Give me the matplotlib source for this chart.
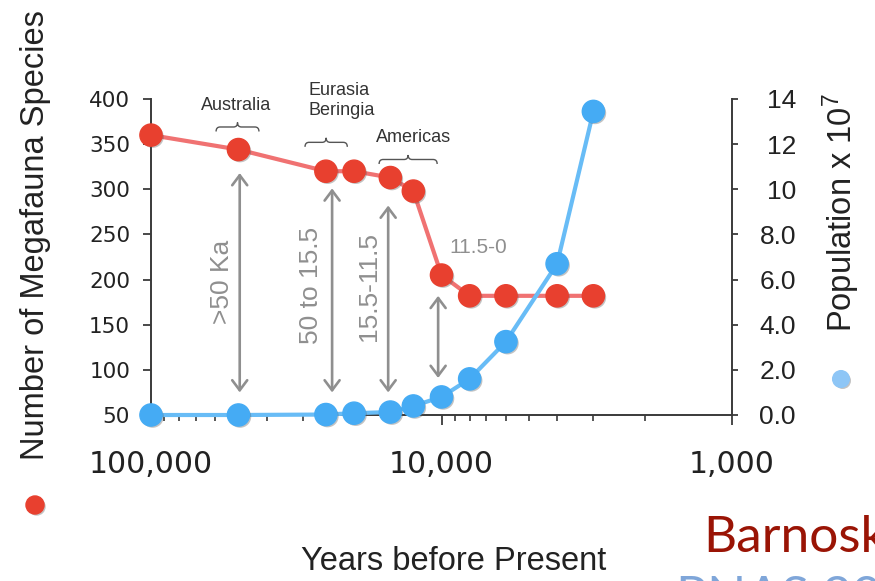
import matplotlib
matplotlib.use('Agg')
import matplotlib.pyplot as plt
import matplotlib.patheffects as pe
from matplotlib.path import Path
from matplotlib.patches import PathPatch
from matplotlib.lines import Line2D
from matplotlib.transforms import IdentityTransform
from matplotlib.ticker import LogLocator, NullFormatter, FixedLocator

plt.rcParams['font.family'] = ['Liberation Sans', 'DejaVu Sans']

# ---------------- data ----------------
years = [100000, 50000, 25000, 20000, 15000, 12500, 10000, 8000, 6000, 4000, 3000]
megafauna_species = [360, 344, 320, 320, 313, 298, 205, 182, 182, 182, 182]
population_1e7 = [0.0, 0.0, 0.02, 0.08, 0.13, 0.4, 0.8, 1.6, 3.25, 6.7, 13.45]

x_ticks = [100000, 10000, 1000]
x_tick_labels = ['100,000', '10,000', '1,000']
left_ticks = [50, 100, 150, 200, 250, 300, 350, 400]
right_ticks = [0, 2, 4, 6, 8, 10, 12, 14]
right_tick_labels = ['0.0', '2.0', '4.0', '6.0', '8.0', '10', '12', '14']

# regional extinction brackets: label, x-left, x-right, y (left-axis units)
region_labels = ['Australia', 'Eurasia\nBeringia', 'Americas']
region_x0 = [59700, 29500, 16400]
region_x1 = [42500, 21100, 10350]
region_y = [369, 352, 333]

# period double arrows
period_labels = ['>50 Ka', '50 to 15.5', '15.5-11.5', '11.5-0']
arrow_x = [49500, 23800, 15260, 10270]
arrow_top = [318, 301, 282, 182]
arrow_bottom = [75, 75, 75, 91]

RED = '#e8402f'
RED_LINE = '#f07272'
BLUE = '#45abf4'
BLUE_LINE = '#68bcf6'
GRAY = '#8f8f8f'
DARK = '#3a3a3a'
TXT = '#222222'

fig = plt.figure(figsize=(8.75, 5.81), dpi=100)
W, H = 875, 581
ax = fig.add_axes([151 / W, 1 - 415 / H, (732 - 151) / W, (415 - 99) / H])
ax.set_xscale('log')
ax.set_xlim(100000, 1000)
ax.set_ylim(50, 400)
ax2 = ax.twinx()
ax2.set_ylim(0, 14)
ax.patch.set_visible(False)

for a in (ax, ax2):
    for s in a.spines.values():
        s.set_visible(False)
ax.spines['left'].set_visible(True)
ax.spines['bottom'].set_visible(True)
ax2.spines['right'].set_visible(True)
for s in (ax.spines['left'], ax.spines['bottom'], ax2.spines['right']):
    s.set_color(DARK)
    s.set_linewidth(1.4)

# ticks
ax.xaxis.set_major_locator(FixedLocator(x_ticks))
ax.set_xticklabels(x_tick_labels)
ax.xaxis.set_minor_locator(LogLocator(base=10, subs=range(2, 10)))
ax.xaxis.set_minor_formatter(NullFormatter())
ax.tick_params(axis='x', which='major', length=7.5, width=1.3, color=DARK,
               direction='out', pad=18, labelsize=21.5, labelcolor=TXT)
ax.tick_params(axis='x', which='minor', length=4.5, width=1.2, color=DARK,
               direction='out')
for lab in ax.get_xticklabels():
    lab.set_fontfamily('DejaVu Sans')

ax.set_yticks(left_ticks)
ax.set_yticklabels([str(v) for v in left_ticks])
ax.tick_params(axis='y', length=6, width=1.3, color=DARK, direction='out',
               pad=9, labelsize=15.5, labelcolor=TXT)
for lab in ax.get_yticklabels():
    lab.set_fontfamily('DejaVu Sans')

ax2.set_yticks(right_ticks)
ax2.set_yticklabels(right_tick_labels)
ax2.tick_params(axis='y', length=4, width=1.3, color=DARK, direction='out',
                pad=42, labelsize=19, labelcolor=TXT)
for lab in ax2.get_yticklabels():
    lab.set_horizontalalignment('right')

shadow = [pe.SimplePatchShadow(offset=(1.2, -1.2), shadow_rgbFace='#555555', alpha=0.35),
          pe.Normal()]

# lines
ax.plot(years, megafauna_species, color=RED_LINE, lw=3, zorder=3,
        solid_capstyle='round', clip_on=False)
ax.plot(years, megafauna_species, 'o', color=RED, ms=16, mec=RED, zorder=4,
        clip_on=False, path_effects=shadow)
ax2.plot(years, population_1e7, color=BLUE_LINE, lw=3, zorder=3,
         solid_capstyle='round', clip_on=False)
ax2.plot(years, population_1e7, 'o', color=BLUE, ms=16, mec=BLUE, zorder=4,
         clip_on=False, path_effects=shadow)

# double arrows
for x, yt, yb in zip(arrow_x, arrow_top, arrow_bottom):
    ax.annotate('', xy=(x, yt), xytext=(x, yb),
                arrowprops=dict(arrowstyle='<->,head_length=0.6,head_width=0.45',
                                lw=1.9, color=GRAY, shrinkA=0, shrinkB=0,
                                mutation_scale=12),
                annotation_clip=False, zorder=2)

# period labels
ax.text(56900, 197, period_labels[0], rotation=90, ha='center', va='center',
        fontsize=19, color=GRAY)
ax.text(28100, 193, period_labels[1], rotation=90, ha='center', va='center',
        fontsize=19, color=GRAY)
ax.text(17750, 192, period_labels[2], rotation=90, ha='center', va='center',
        fontsize=19, color=GRAY)
ax.text(7470, 236, period_labels[3], ha='center', va='center',
        fontsize=15, color=GRAY)

# region labels
ax.text(50900, 393, region_labels[0], ha='center', va='center', fontsize=13, color='#333333')
ax.text(28800, 398, region_labels[1], ha='left', va='center', fontsize=13, color='#333333',
        linespacing=1.25)
ax.text(12520, 357, region_labels[2], ha='center', va='center', fontsize=13, color='#333333')


def brace(x0, x1, y, h=4.5, r=4.0):
    X0, Y = ax.transData.transform((x0, y))
    X1, _ = ax.transData.transform((x1, y))
    Xm = (X0 + X1) / 2
    verts = [(X0, Y - h), (X0, Y), (X0 + r, Y),
             (Xm - r, Y), (Xm, Y), (Xm, Y + h),
             (Xm, Y), (Xm + r, Y),
             (X1 - r, Y), (X1, Y), (X1, Y - h)]
    codes = [Path.MOVETO, Path.CURVE3, Path.CURVE3,
             Path.LINETO, Path.CURVE3, Path.CURVE3,
             Path.CURVE3, Path.CURVE3,
             Path.LINETO, Path.CURVE3, Path.CURVE3]
    p = PathPatch(Path(verts, codes), facecolor='none', edgecolor='#555555',
                  lw=1.0, transform=IdentityTransform())
    fig.add_artist(p)


for x0, x1, y in zip(region_x0, region_x1, region_y):
    brace(x0, x1, y)

# axis labels
fig.text(36 / W, 1 - 235 / H, 'Number of Megafauna Species', rotation=90,
         ha='center', va='center', fontsize=23.5, color=TXT)
fig.text(841 / W, 1 - 213 / H, r'Population x $\mathregular{10^7}$', rotation=90,
         ha='center', va='center', fontsize=23.5, color=TXT)
fig.text(454 / W, 1 - 562 / H, 'Years before Present', ha='center', va='center',
         fontsize=23.5, color=TXT)

# series key dots
fig.add_artist(Line2D([35 / W], [1 - 505 / H], marker='o', ms=13, color=RED, lw=0,
                      transform=fig.transFigure, path_effects=shadow))
fig.add_artist(Line2D([841 / W], [1 - 379 / H], marker='o', ms=12, color='#8ec6f6', lw=0,
                      transform=fig.transFigure, path_effects=shadow))

# citation (cut off at the right/bottom edge as in the source slide)
fig.text(703 / W, 1 - 552 / H, 'Barnosky', ha='left', va='baseline',
         fontsize=37, color='#9a1405', family='Lato')
fig.text(676 / W, 1 - 612 / H, 'PNAS 2009', ha='left', va='baseline',
         fontsize=37, color='#7fa6d9', family='Lato')

fig.savefig('out.png', dpi=100)
